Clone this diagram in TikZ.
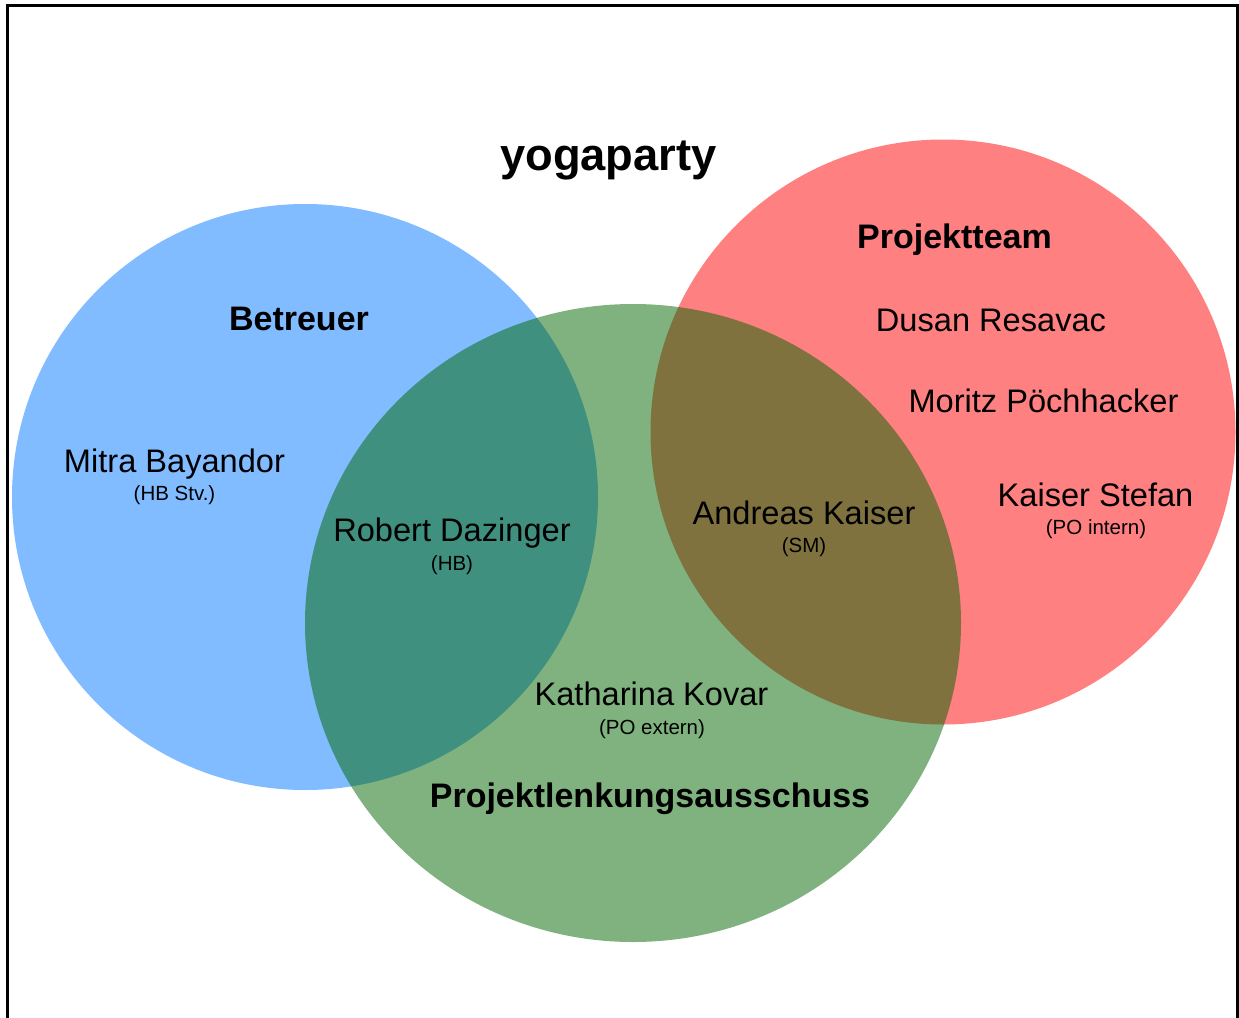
\documentclass[tikz,border=0pt]{standalone}
\usepackage{fontspec}
\setmainfont{Liberation Sans}
\definecolor{cblue}{RGB}{128,188,255}
\definecolor{cred}{RGB}{255,128,128}
\definecolor{cgreen}{RGB}{0,102,0}
\newcommand\fNorm{\fontsize{32.6}{38}\selectfont}
\newcommand\fSmall{\fontsize{20.5}{24}\selectfont}
\newcommand\fHead{\fontsize{34}{40}\selectfont\bfseries}
\newcommand\fTitle{\fontsize{45.3}{52}\selectfont\bfseries}
\begin{document}
\begin{tikzpicture}[x=1pt,y=-1pt,
  lab/.style={anchor=base,inner sep=0pt,text=black},
  nm/.style={lab,font=\fNorm},
  sm/.style={lab,font=\fSmall},
  hd/.style={lab,font=\fHead}]
\useasboundingbox (0,0) rectangle (1239,1017);
\fill[white] (0,0) rectangle (1239,1017);
% frame
\draw[line width=3pt] (7,1020) -- (7,5) -- (1237.5,5) -- (1237.5,1020);
% circles
\fill[cblue] (305,497) circle (293);
\fill[cred] (943,432) circle (292.5);
\fill[cgreen,opacity=0.5] (633,623) ellipse (328 and 319);
% texts
\node[lab,font=\fTitle] (title) at (608.5,170) {yogaparty};
\node[hd] (betreuer) at (299,330) {Betreuer};
\node[hd] (projektteam) at (954.5,248) {Projektteam};
\node[hd] (pla) at (650,807) {Projektlenkungsausschuss};
\node[nm] (mitra) at (174.5,472) {Mitra Bayandor};
\node[sm] (mitrar) at (174.5,500) {(HB Stv.)};
\node[nm] (robert) at (452,541) {Robert Dazinger};
\node[sm] (robertr) at (452,570) {(HB)};
\node[nm] (andreas) at (804,524) {Andreas Kaiser};
\node[sm] (andreasr) at (804,552) {(SM)};
\node[nm] (dusan) at (991,331) {Dusan Resavac};
\node[nm] (moritz) at (1043.5,412) {Moritz Pöchhacker};
\node[nm] (kaiser) at (1095.5,506) {Kaiser Stefan};
\node[sm] (kaiserr) at (1096,534) {(PO intern)};
\node[nm] (katharina) at (651.5,705) {Katharina Kovar};
\node[sm] (katharinar) at (652,734) {(PO extern)};
\end{tikzpicture}
\end{document}
